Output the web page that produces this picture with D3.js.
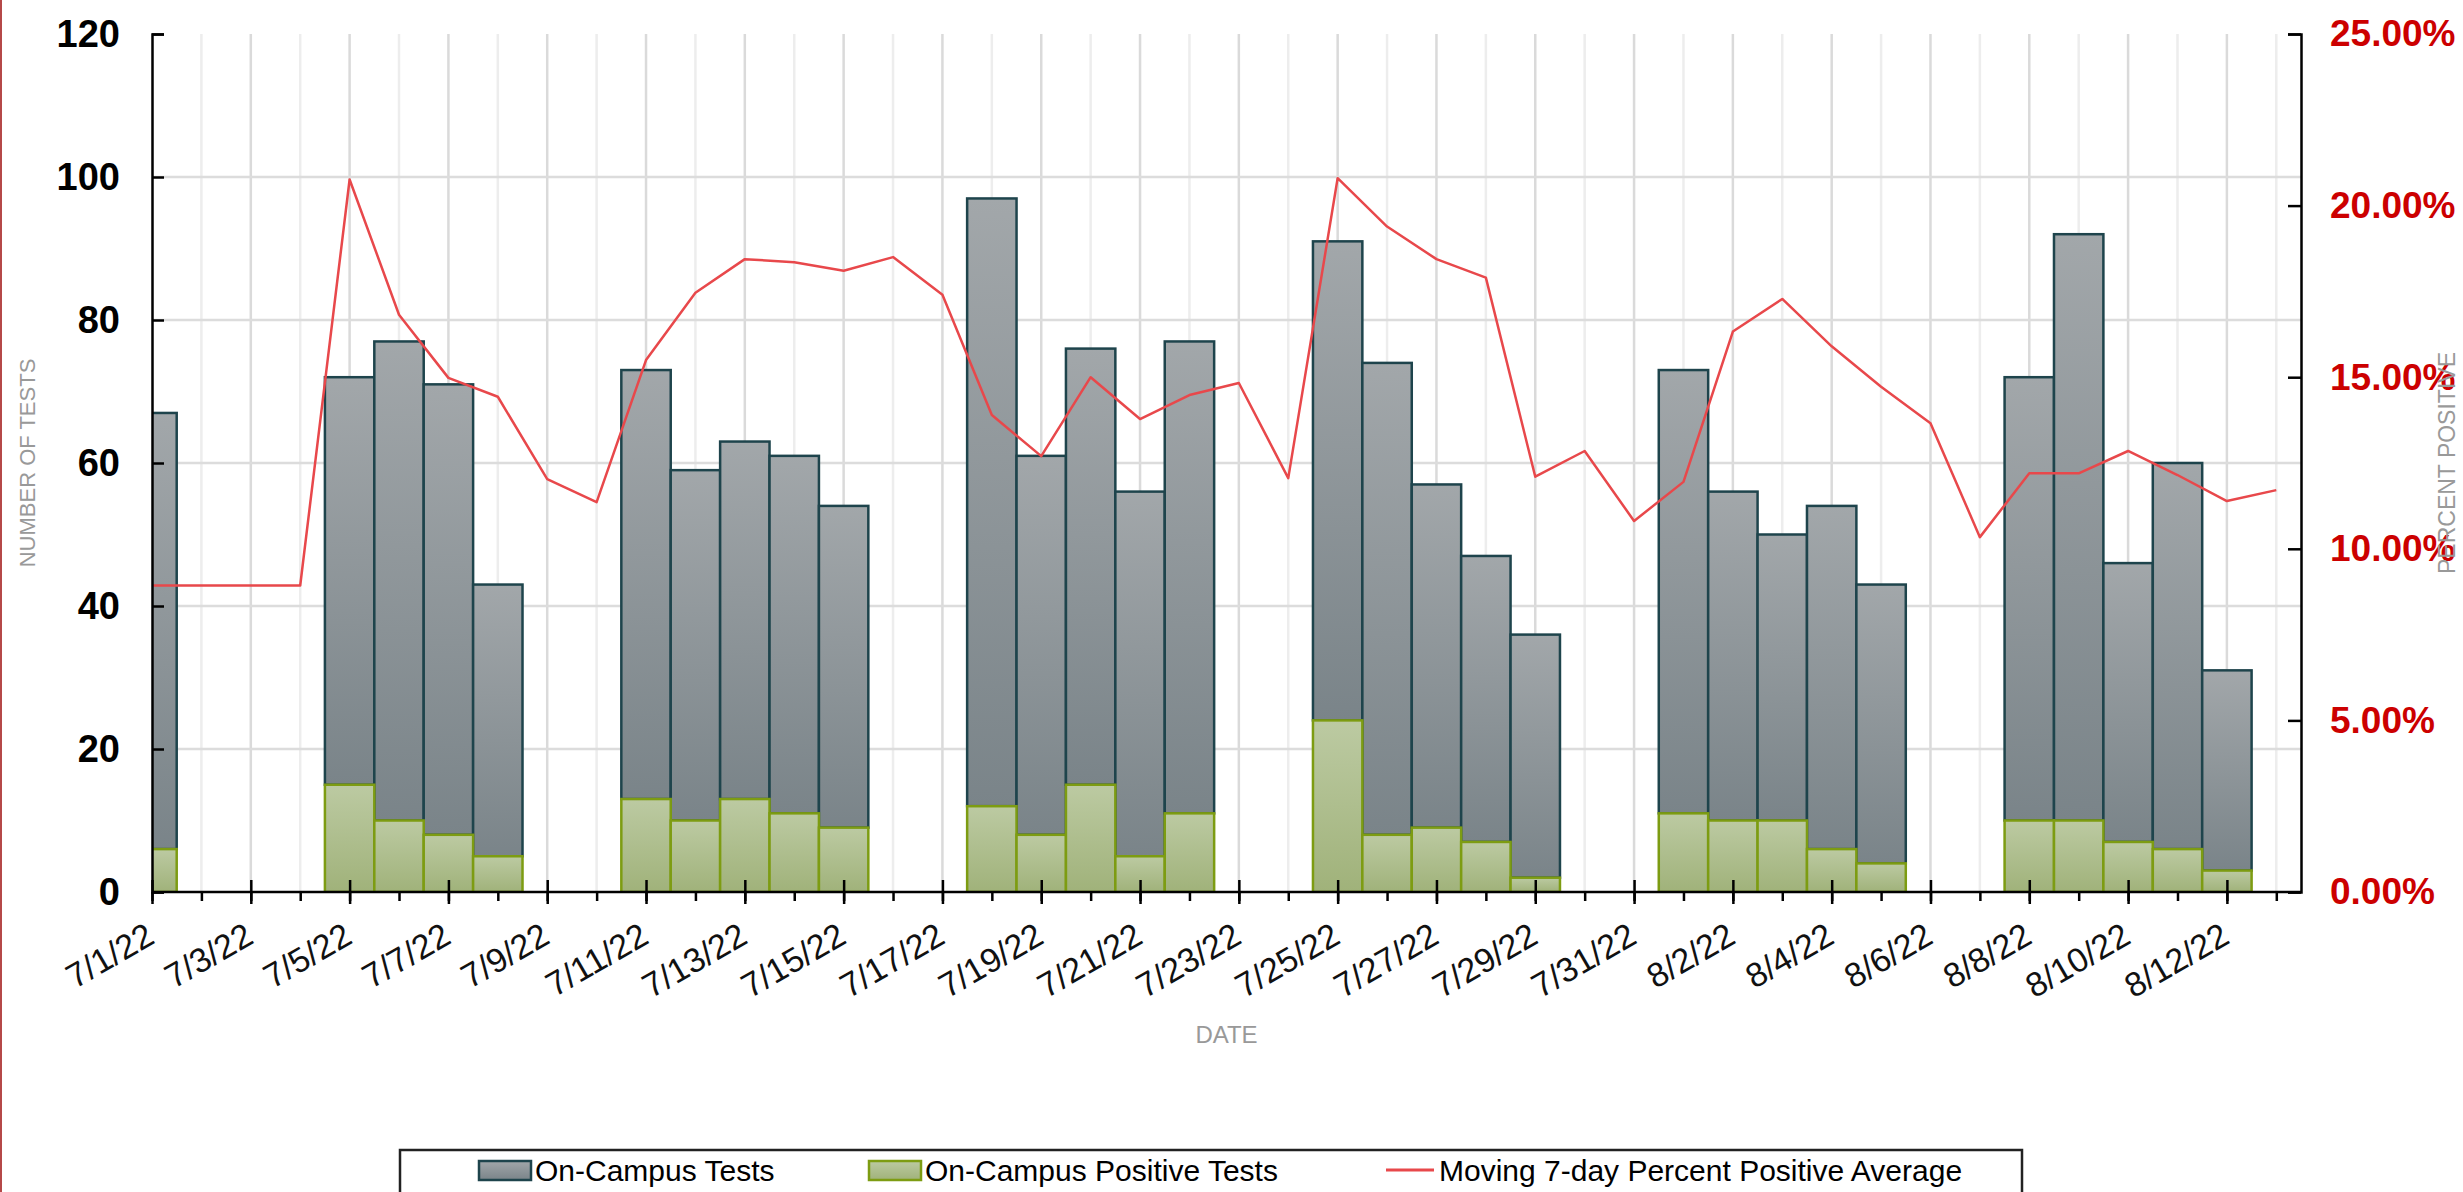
<!DOCTYPE html>
<html>
<head>
<meta charset="utf-8">
<script src="https://cdn.jsdelivr.net/npm/d3@7"></script>
<style>
  body { margin: 0; background: #fff; }
  text { font-family: "Liberation Sans", Arial, sans-serif; }
</style>
</head>
<body>
<div id="chart"></div>
<script>
// DATA
var dates = ["7/1/22","7/2/22","7/3/22","7/4/22","7/5/22","7/6/22","7/7/22","7/8/22","7/9/22","7/10/22",
  "7/11/22","7/12/22","7/13/22","7/14/22","7/15/22","7/16/22","7/17/22","7/18/22","7/19/22","7/20/22",
  "7/21/22","7/22/22","7/23/22","7/24/22","7/25/22","7/26/22","7/27/22","7/28/22","7/29/22","7/30/22",
  "7/31/22","8/1/22","8/2/22","8/3/22","8/4/22","8/5/22","8/6/22","8/7/22","8/8/22","8/9/22",
  "8/10/22","8/11/22","8/12/22","8/13/22"];
var tests = [67,null,null,null,72,77,71,43,null,null,
  73,59,63,61,54,null,null,97,61,76,
  56,77,null,null,91,74,57,47,36,null,
  null,73,56,50,54,43,null,null,72,92,
  46,60,31,null];
var positives = [6,null,null,null,15,10,8,5,null,null,
  13,10,13,11,9,null,null,12,8,15,
  5,11,null,null,24,8,9,7,2,null,
  null,11,10,10,6,4,null,null,10,10,
  7,6,3,null];
var pctAvg = [8.93,8.93,8.93,8.93,20.76,16.82,14.98,14.43,12.03,11.36,
  15.5,17.46,18.44,18.35,18.1,18.5,17.4,13.9,12.7,15.0,
  13.78,14.48,14.83,12.06,20.8,19.39,18.44,17.9,12.1,12.85,
  10.81,11.95,16.33,17.28,15.9,14.72,13.66,10.34,12.2,12.2,
  12.85,12.15,11.39,11.71];
var leftTicks = [0,20,40,60,80,100,120];
var rightTicks = [0,0.05,0.10,0.15,0.20,0.25];
var seriesNames = ["On-Campus Tests","On-Campus Positive Tests","Moving 7-day Percent Positive Average"];

var W = 2463, H = 1192;
var plot = {left: 152, right: 2301, top: 34, bottom: 892};

var parseDay = d3.timeParse("%m/%d/%y");
var fmtDay = d3.timeFormat("%-m/%-d/%y");
var days = dates.map(function(s, i){
  return {date: parseDay(s), tests: tests[i], pos: positives[i], pct: pctAvg[i], i: i};
});

var svg = d3.select("#chart").append("svg").attr("width", W).attr("height", H);

// thin red edge on the left
svg.append("rect").attr("x", 0).attr("y", 0).attr("width", 2).attr("height", H).attr("fill", "#b54848");

var defs = svg.append("defs");
var g1 = defs.append("linearGradient").attr("id", "grayGrad").attr("x1", 0).attr("y1", 0).attr("x2", 0).attr("y2", 1);
g1.append("stop").attr("offset", "0%").attr("stop-color", "#a2a7aa");
g1.append("stop").attr("offset", "100%").attr("stop-color", "#7a8489");
var g2 = defs.append("linearGradient").attr("id", "greenGrad").attr("x1", 0).attr("y1", 0).attr("x2", 0).attr("y2", 1);
g2.append("stop").attr("offset", "0%").attr("stop-color", "#bccaa2");
g2.append("stop").attr("offset", "100%").attr("stop-color", "#a0b27a");
defs.append("clipPath").attr("id", "plotClip").append("rect")
  .attr("x", plot.left).attr("y", plot.top - 5)
  .attr("width", plot.right - plot.left).attr("height", plot.bottom - plot.top + 5);

// SCALES
var x = d3.scaleTime()
  .domain([days[0].date, d3.timeHour.offset(days[days.length - 1].date, 12)])
  .range([plot.left, plot.right]);
var dayW = x(days[1].date) - x(days[0].date);
var y = d3.scaleLinear().domain([0, 120]).range([plot.bottom, plot.top]);
var yR = d3.scaleLinear().domain([0, 0.25]).range([plot.bottom, plot.top]);

// GRIDLINES
svg.append("g").selectAll("line").data(days.slice(1)).enter().append("line")
  .attr("x1", function(d){ return x(d.date); })
  .attr("x2", function(d){ return x(d.date); })
  .attr("y1", plot.top).attr("y2", plot.bottom)
  .attr("stroke", function(d){ return d.i % 2 == 0 ? "#dadada" : "#ededed"; })
  .attr("stroke-width", 2.5);
svg.append("g").selectAll("line").data(leftTicks.slice(1, -1)).enter().append("line")
  .attr("x1", plot.left).attr("x2", plot.right)
  .attr("y1", function(d){ return y(d); }).attr("y2", function(d){ return y(d); })
  .attr("stroke", "#dcdcdc").attr("stroke-width", 2.5);

// BARS
var withData = days.filter(function(d){ return d.tests != null; });
var bars = svg.append("g").attr("clip-path", "url(#plotClip)");
bars.selectAll(".tests").data(withData).enter().append("rect")
  .attr("class", "tests")
  .attr("x", function(d){ return x(d.date) - dayW / 2; })
  .attr("width", dayW)
  .attr("y", function(d){ return y(d.tests); })
  .attr("height", function(d){ return y(d.pos) - y(d.tests); })
  .attr("fill", "url(#grayGrad)")
  .attr("stroke", "#1e444c").attr("stroke-width", 2.5);
bars.selectAll(".pos").data(withData).enter().append("rect")
  .attr("class", "pos")
  .attr("x", function(d){ return x(d.date) - dayW / 2; })
  .attr("width", dayW)
  .attr("y", function(d){ return y(d.pos); })
  .attr("height", function(d){ return y(0) - y(d.pos); })
  .attr("fill", "url(#greenGrad)")
  .attr("stroke", "#7d9c12").attr("stroke-width", 2.5);

// LINE
var line = d3.line()
  .x(function(d){ return x(d.date); })
  .y(function(d){ return yR(d.pct / 100); });
svg.append("path").datum(days)
  .attr("d", line)
  .attr("fill", "none")
  .attr("stroke", "#e8484b")
  .attr("stroke-width", 2.5)
  .attr("stroke-linejoin", "round");

// AXES
var minorAxis = svg.append("g").attr("transform", "translate(0," + plot.bottom + ")")
  .call(d3.axisBottom(x).tickValues(days.map(function(d){ return d.date; })).tickSize(9).tickFormat(""));
minorAxis.select(".domain").remove();
minorAxis.selectAll(".tick line").attr("stroke", "#000").attr("stroke-width", 2.5);

var majorDates = days.filter(function(d){ return d.i % 2 == 0; }).map(function(d){ return d.date; });
var xAxis = svg.append("g").attr("transform", "translate(0," + plot.bottom + ")")
  .call(d3.axisBottom(x).tickValues(majorDates).tickSize(12).tickFormat(fmtDay));
xAxis.select(".domain").remove();
xAxis.selectAll(".tick line").attr("y1", -12).attr("stroke", "#000").attr("stroke-width", 2.5);
xAxis.selectAll(".tick text")
  .attr("x", 0).attr("y", 0).attr("dy", 0)
  .attr("text-anchor", "end")
  .attr("transform", "translate(4,50) rotate(-30)")
  .style("font-size", "34px").style("font-family", "'Liberation Sans', Arial, sans-serif")
  .attr("fill", "#111");
svg.append("line").attr("x1", plot.left).attr("x2", plot.right)
  .attr("y1", plot.bottom).attr("y2", plot.bottom)
  .attr("stroke", "#000").attr("stroke-width", 2.5);

var yAxis = svg.append("g").attr("transform", "translate(" + plot.left + ",0)")
  .call(d3.axisLeft(y).tickValues(leftTicks).tickSize(-12).tickPadding(32));
yAxis.select(".domain").attr("stroke", "#000").attr("stroke-width", 2.5);
yAxis.selectAll(".tick line").attr("stroke", "#000").attr("stroke-width", 2.5);
yAxis.selectAll(".tick text")
  .style("font-size", "38px").style("font-weight", "bold")
  .style("font-family", "'Liberation Sans', Arial, sans-serif")
  .attr("fill", "#000");

var yAxisR = svg.append("g").attr("transform", "translate(" + plot.right + ",0)")
  .call(d3.axisRight(yR).tickValues(rightTicks).tickSize(-13).tickPadding(29).tickFormat(d3.format(".2%")));
yAxisR.select(".domain").attr("stroke", "#000").attr("stroke-width", 2.5);
yAxisR.selectAll(".tick line").attr("stroke", "#000").attr("stroke-width", 2.5);
yAxisR.selectAll(".tick text")
  .style("font-size", "37px").style("font-weight", "bold")
  .style("font-family", "'Liberation Sans', Arial, sans-serif")
  .attr("fill", "#cc0000");

// AXIS TITLES
svg.append("text").attr("transform", "translate(35," + ((plot.top + plot.bottom) / 2) + ") rotate(-90)")
  .attr("text-anchor", "middle").attr("fill", "#999").style("font-size", "22px")
  .text("NUMBER OF TESTS");
svg.append("text").attr("transform", "translate(2455," + ((plot.top + plot.bottom) / 2) + ") rotate(-90)")
  .attr("text-anchor", "middle").attr("fill", "#999").style("font-size", "23px")
  .text("PERCENT POSITIVE");
svg.append("text").attr("x", (plot.left + plot.right) / 2).attr("y", 1043)
  .attr("text-anchor", "middle").attr("fill", "#999").style("font-size", "24px")
  .text("DATE");

// LEGEND
var legend = svg.append("g");
legend.append("rect").attr("x", 400).attr("y", 1150).attr("width", 1622).attr("height", 70)
  .attr("fill", "#fff").attr("stroke", "#222").attr("stroke-width", 2.5);
legend.append("rect").attr("x", 479).attr("y", 1161).attr("width", 52).attr("height", 19)
  .attr("fill", "url(#grayGrad)").attr("stroke", "#1e444c").attr("stroke-width", 2.5);
legend.append("text").attr("x", 535).attr("y", 1181).style("font-size", "30px").text(seriesNames[0]);
legend.append("rect").attr("x", 869).attr("y", 1161).attr("width", 52).attr("height", 19)
  .attr("fill", "url(#greenGrad)").attr("stroke", "#7d9c12").attr("stroke-width", 2.5);
legend.append("text").attr("x", 925).attr("y", 1181).style("font-size", "30px").text(seriesNames[1]);
legend.append("line").attr("x1", 1386).attr("x2", 1434).attr("y1", 1170).attr("y2", 1170)
  .attr("stroke", "#e8484b").attr("stroke-width", 3);
legend.append("text").attr("x", 1439).attr("y", 1181).style("font-size", "30px").text(seriesNames[2]);
</script>
</body>
</html>
